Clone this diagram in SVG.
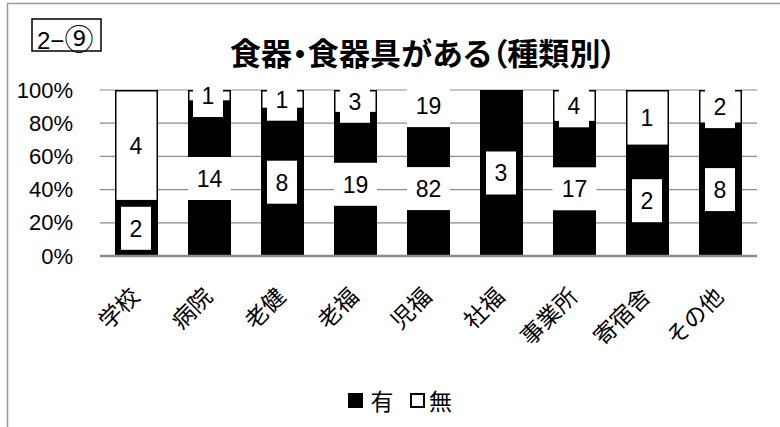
<svg xmlns="http://www.w3.org/2000/svg" width="780" height="427" viewBox="0 0 780 427">
<style>
.t{font-family:"Liberation Sans","Noto Sans CJK JP",sans-serif;fill:#000}
.j{font-family:"Noto Sans CJK JP","Liberation Sans",sans-serif;fill:#000}
.ax{font-size:22px;text-anchor:end}
.cat{font-size:23px;text-anchor:end}
.lbl{font-size:23px;text-anchor:middle}
.grid{stroke:#8c8c8c;stroke-width:1.2}
.blk{fill:#000}
.wht{fill:#fff;stroke:#000;stroke-width:1.5}
.box{fill:#fff}
</style>
<rect width="780" height="427" fill="#fff"/>
<path d="M7.5 427V3.5H780" fill="none" stroke="#9a9a9a" stroke-width="1.5"/>
<g id="tag">
<rect x="32" y="19" width="69" height="32" fill="#fff" stroke="#000" stroke-width="1.5"/>
<text class="t" x="37" y="49" font-size="24">2−<tspan font-family="Noto Sans CJK JP, sans-serif" font-size="29" y="50">⑨</tspan></text>
</g>
<g id="title">
<text class="j" x="230" y="65" font-size="31" font-weight="bold" style="font-feature-settings:'palt'" textLength="386" lengthAdjust="spacing">食器・食器具がある（種類別）</text>
</g>
<g id="axis">
<line class="grid" x1="100" y1="90" x2="757" y2="90"/>
<line class="grid" x1="100" y1="123.2" x2="757" y2="123.2"/>
<line class="grid" x1="100" y1="156.4" x2="757" y2="156.4"/>
<line class="grid" x1="100" y1="189.6" x2="757" y2="189.6"/>
<line class="grid" x1="100" y1="222.8" x2="757" y2="222.8"/>
<text class="t ax" x="73" y="97.5">100%</text>
<text class="t ax" x="73" y="130.7">80%</text>
<text class="t ax" x="73" y="163.9">60%</text>
<text class="t ax" x="73" y="197.1">40%</text>
<text class="t ax" x="73" y="230.3">20%</text>
<text class="t ax" x="73" y="263.5">0%</text>
</g>
<g id="bar-gakko">
<rect class="blk" x="115" y="200.67" width="43" height="55.33"/>
<rect class="wht" x="115.75" y="90.75" width="41.5" height="109.92"/>
<rect class="box" x="121" y="206.8" width="30" height="43"/>
<text class="t lbl" x="136" y="236.6">2</text>
<text class="t lbl" x="136" y="153.6">4</text>
</g>
<g id="bar-byoin">
<rect class="blk" x="188" y="101.07" width="43" height="154.93"/>
<rect class="wht" x="188.75" y="90.75" width="41.5" height="10.32"/>
<rect class="box" x="188" y="157" width="43" height="43"/>
<text class="t lbl" x="209.5" y="186.8">14</text>
<rect class="box" x="193" y="74" width="30" height="43"/>
<text class="t lbl" x="208" y="103.8">1</text>
</g>
<g id="bar-roken">
<rect class="blk" x="261" y="108.44" width="43" height="147.56"/>
<rect class="wht" x="261.75" y="90.75" width="41.5" height="17.69"/>
<rect class="box" x="267" y="160.7" width="30" height="43"/>
<text class="t lbl" x="282" y="190.5">8</text>
<rect class="box" x="267" y="77.7" width="30" height="43"/>
<text class="t lbl" x="282" y="107.5">1</text>
</g>
<g id="bar-rofuku">
<rect class="blk" x="334" y="112.64" width="43" height="143.36"/>
<rect class="wht" x="334.75" y="90.75" width="41.5" height="21.89"/>
<rect class="box" x="334" y="162.8" width="43" height="43"/>
<text class="t lbl" x="355.5" y="192.6">19</text>
<rect class="box" x="340" y="79.8" width="30" height="43"/>
<text class="t lbl" x="355" y="109.6">3</text>
</g>
<g id="bar-jifuku">
<rect class="blk" x="407" y="121.23" width="43" height="134.77"/>
<rect class="wht" x="407.75" y="90.75" width="41.5" height="30.48"/>
<rect class="box" x="407" y="167.1" width="43" height="43"/>
<text class="t lbl" x="428.5" y="196.9">82</text>
<rect class="box" x="407" y="84.1" width="43" height="43"/>
<text class="t lbl" x="428.5" y="113.9">19</text>
</g>
<g id="bar-shafuku">
<rect class="blk" x="480" y="90" width="43" height="166"/>
<rect class="box" x="486" y="151.5" width="30" height="43"/>
<text class="t lbl" x="501" y="181.3">3</text>
</g>
<g id="bar-jigyosho">
<rect class="blk" x="553" y="121.62" width="43" height="134.38"/>
<rect class="wht" x="553.75" y="90.75" width="41.5" height="30.87"/>
<rect class="box" x="552.5" y="167.3" width="44" height="43"/>
<text class="t lbl" x="574.5" y="197.1">17</text>
<rect class="box" x="559" y="84.3" width="30" height="43"/>
<text class="t lbl" x="574" y="114.1">4</text>
</g>
<g id="bar-kishukusha">
<rect class="blk" x="626" y="145.33" width="43" height="110.67"/>
<rect class="wht" x="626.75" y="90.75" width="41.5" height="54.58"/>
<rect class="box" x="632" y="179.2" width="30" height="43"/>
<text class="t lbl" x="647" y="209">2</text>
<text class="t lbl" x="647" y="126">1</text>
</g>
<g id="bar-sonota">
<rect class="blk" x="699" y="123.2" width="43" height="132.8"/>
<rect class="wht" x="699.75" y="90.75" width="41.5" height="32.45"/>
<rect class="box" x="705" y="168.1" width="30" height="43"/>
<text class="t lbl" x="720" y="197.9">8</text>
<rect class="box" x="705" y="85.1" width="30" height="43"/>
<text class="t lbl" x="720" y="114.9">2</text>
</g>
<g id="baseline">
<line x1="100" y1="256" x2="757" y2="256" stroke="#8c8c8c" stroke-width="2.7"/>
</g>
<g id="categories">
<text class="j cat" transform="translate(141,298) rotate(-45)">学校</text>
<text class="j cat" transform="translate(214,298) rotate(-45)">病院</text>
<text class="j cat" transform="translate(287,298) rotate(-45)">老健</text>
<text class="j cat" transform="translate(360,298) rotate(-45)">老福</text>
<text class="j cat" transform="translate(433,298) rotate(-45)">児福</text>
<text class="j cat" transform="translate(506,298) rotate(-45)">社福</text>
<text class="j cat" transform="translate(579,298) rotate(-45)">事業所</text>
<text class="j cat" transform="translate(652,298) rotate(-45)">寄宿舎</text>
<text class="j cat" transform="translate(725,298) rotate(-45)">その他</text>
</g>
<g id="legend">
<rect x="348" y="393" width="15" height="15" fill="#000"/>
<text class="j" x="370.5" y="410" font-size="23">有</text>
<rect x="411" y="394" width="13" height="13" fill="#fff" stroke="#000" stroke-width="2"/>
<text class="j" x="429" y="410" font-size="23">無</text>
</g>
</svg>
